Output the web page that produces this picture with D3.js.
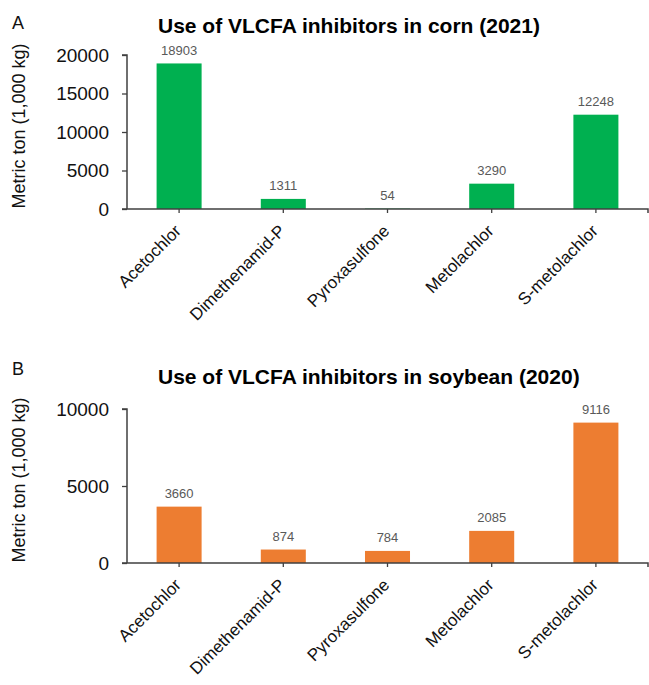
<!DOCTYPE html>
<html><head><meta charset="utf-8">
<script src="https://cdn.jsdelivr.net/npm/d3@7"></script>
<style>body{margin:0;background:#fff;} svg{display:block;font-family:"Liberation Sans",Arial,sans-serif;}</style>
</head><body>
<svg id="c" width="649" height="685"></svg>
<script>
const categories = ["Acetochlor","Dimethenamid-P","Pyroxasulfone","Metolachlor","S-metolachlor"];
const cornValues = [18903, 1311, 54, 3290, 12248];
const soyValues = [3660, 874, 784, 2085, 9116];
const cornTicks = [0, 5000, 10000, 15000, 20000];
const soyTicks = [0, 5000, 10000];
const yTitle = "Metric ton (1,000 kg)";

const svg = d3.select("#c");

function panel(opt){
  const g = svg.append("g");
  const x = d3.scaleBand().domain(categories).range([127, 648]).paddingInner(0.568).paddingOuter(0.284);
  const y = d3.scaleLinear().domain([0, opt.max]).range([opt.y0, opt.y0 - 154]);
  // panel letter
  g.append("text").attr("x", 12).attr("y", opt.letterY).attr("font-size", 18).attr("fill","#111").text(opt.letter);
  // title
  g.append("text").attr("x", 158).attr("y", opt.titleY).attr("font-size", 21).attr("font-weight","bold").attr("fill","#000").text(opt.title);
  // y title
  g.append("text").attr("transform", `translate(25,${opt.y0 - 83}) rotate(-90)`).attr("text-anchor","middle")
    .attr("font-size", 18).attr("fill","#111").text(yTitle);
  // bars
  g.selectAll("rect.bar").data(opt.values).join("rect").attr("class","bar")
    .attr("x",(d,i)=>x(categories[i])).attr("width", x.bandwidth())
    .attr("y", d=>y(d)).attr("height", d=>y(0)-y(d)).attr("fill", opt.color);
  // value labels
  g.selectAll("text.val").data(opt.values).join("text").attr("class","val")
    .attr("x",(d,i)=>x(categories[i]) + x.bandwidth()/2).attr("y", d=>y(d)-8.5)
    .attr("text-anchor","middle").attr("font-size",13).attr("fill","#595959").text(d=>d);
  // y axis
  const ya = g.append("g").attr("transform","translate(127,0)")
    .call(d3.axisLeft(y).tickValues(opt.ticks).tickSize(5).tickPadding(13).tickFormat(d3.format("d")));
  ya.select(".domain").attr("stroke","#404040").attr("stroke-width",1.5).attr("d", `M-5,${y(opt.max)}H0V${y(0)}`);
  ya.selectAll(".tick line").attr("stroke","#404040").attr("stroke-width",1.3);
  ya.selectAll(".tick text").attr("font-size",19).attr("fill","#111").attr("font-family",'"Liberation Sans",Arial,sans-serif');
  // x axis
  const xa = g.append("g").attr("transform",`translate(0,${y(0)})`)
    .call(d3.axisBottom(x).tickSize(4).tickFormat(""));
  xa.select(".domain").attr("stroke","#404040").attr("stroke-width",1.5).attr("d","M122,0H648V4");
  xa.selectAll(".tick line").attr("stroke","#404040").attr("stroke-width",1.3);
  g.selectAll("text.xl").data(categories).join("text").attr("class","xl")
    .attr("transform", d=>`translate(${x(d)+x.bandwidth()/2+3},${y(0)+23}) rotate(-45)`)
    .attr("text-anchor","end").attr("font-size",17).attr("fill","#111").text(d=>d);
}

panel({letter:"A", letterY:29, title:"Use of VLCFA inhibitors in corn (2021)", titleY:33, y0:209, max:20000,
  values:cornValues, ticks:cornTicks, color:"#00B050"});
panel({letter:"B", letterY:375, title:"Use of VLCFA inhibitors in soybean (2020)", titleY:384, y0:563, max:10000,
  values:soyValues, ticks:soyTicks, color:"#ED7D31"});
</script>
</body></html>
